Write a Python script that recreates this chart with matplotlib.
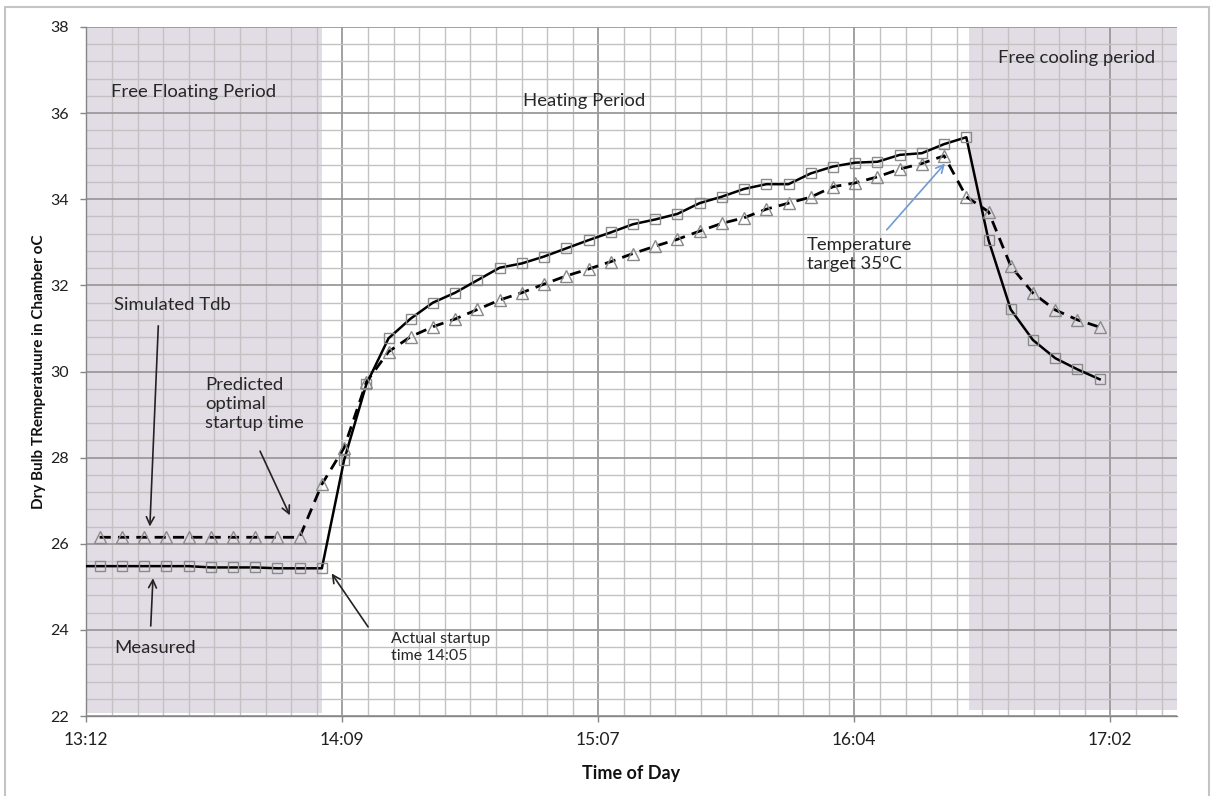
import matplotlib
matplotlib.use("Agg")
import numpy as np
import matplotlib.pyplot as plt
from matplotlib.patches import Rectangle
from matplotlib.ticker import FixedLocator, MultipleLocator

plt.rcParams['font.family'] = ['Lato', 'DejaVu Sans']

# ---------------- data ----------------
measured_times = ["13:10", "13:15", "13:20", "13:25", "13:30", "13:35", "13:40", "13:45",
                  "13:50", "13:55", "14:00", "14:05", "14:10", "14:15", "14:20", "14:25",
                  "14:30", "14:35", "14:40", "14:45", "14:50", "14:55", "15:00", "15:05",
                  "15:10", "15:15", "15:20", "15:25", "15:30", "15:35", "15:40", "15:45",
                  "15:50", "15:55", "16:00", "16:05", "16:10", "16:15", "16:20", "16:25",
                  "16:30", "16:35", "16:40", "16:45", "16:50", "16:55", "17:00"]
measured_tdb = [25.48, 25.48, 25.48, 25.48, 25.48, 25.48, 25.45, 25.45,
                25.45, 25.43, 25.43, 25.43, 27.94, 29.70, 30.77, 31.23,
                31.60, 31.83, 32.12, 32.41, 32.51, 32.67, 32.86, 33.05,
                33.23, 33.42, 33.53, 33.66, 33.91, 34.06, 34.24, 34.35,
                34.35, 34.60, 34.76, 34.85, 34.87, 35.03, 35.07, 35.28,
                35.44, 33.05, 31.44, 30.73, 30.31, 30.05, 29.82]

simulated_times = measured_times[1:]
simulated_tdb = [26.15, 26.15, 26.15, 26.15, 26.15, 26.15, 26.15, 26.15,
                 26.15, 26.15, 27.38, 28.23, 29.75, 30.46, 30.81,
                 31.04, 31.22, 31.44, 31.66, 31.83, 32.03, 32.22, 32.38,
                 32.55, 32.74, 32.91, 33.07, 33.26, 33.44, 33.57, 33.77,
                 33.91, 34.05, 34.29, 34.38, 34.52, 34.70, 34.83, 35.01,
                 34.06, 33.71, 32.45, 31.82, 31.43, 31.20, 31.03]

xtick_values = [0.55, 0.59, 0.63, 0.67, 0.71]          # fraction of a day
xtick_labels = ["13:12", "14:09", "15:07", "16:04", "17:02"]
ytick_values = [22, 24, 26, 28, 30, 32, 34, 36, 38]


def day(hhmm):
    h, m = hhmm.split(":")
    return (int(h) * 60 + float(m)) / 1440.0


def dm(h, m):
    return (h * 60 + m) / 1440.0


mx = [day(t) for t in measured_times]
sx = [day(t) for t in simulated_times]

W, H = 1211, 796
fig = plt.figure(figsize=(W / 100, H / 100), dpi=100)
L, R, T, B = 86.3, 1176.7, 27, 716
ax = fig.add_axes([L / W, 1 - B / H, (R - L) / W, (B - T) / H])

xmin, xmax = 0.55, 0.55 + (R - L) / 6400.0
ymin, ymax = 22, 38
ax.set_xlim(xmin, xmax)
ax.set_ylim(ymin, ymax)

shade = '#e2dde5'
ff_end = dm(14, 5.1)
cool_start = dm(16, 30.6)
ax.add_patch(Rectangle((xmin, 22.06), ff_end - xmin, ymax - 22.06,
                       facecolor=shade, edgecolor='none', zorder=0))
ax.add_patch(Rectangle((cool_start, 22.14), xmax - cool_start, ymax - 22.14,
                       facecolor=shade, edgecolor='none', zorder=0))

# grid
ax.xaxis.set_major_locator(FixedLocator(xtick_values))
ax.set_xticklabels(xtick_labels)
minor_x = 0.55 + 0.004 * np.arange(0, 43)
ax.xaxis.set_minor_locator(FixedLocator(minor_x))
ax.yaxis.set_major_locator(FixedLocator(ytick_values))
ax.yaxis.set_minor_locator(MultipleLocator(0.4))
ax.grid(which='major', color='#9a9a9a', lw=1.3, zorder=1)
ax.grid(which='minor', color='#c2c2c2', lw=1.0, zorder=1)
ax.set_axisbelow(True)

for s in ['top', 'right']:
    ax.spines[s].set_visible(False)
for s in ['left', 'bottom']:
    ax.spines[s].set_color('#868686')
    ax.spines[s].set_linewidth(1.0)

ax.tick_params(which='major', direction='out', length=4.5, width=1, color='#868686',
               labelcolor='#1f1f1f')
ax.tick_params(axis='y', which='major', pad=8, labelsize=11.5)
ax.tick_params(axis='x', which='major', pad=7, labelsize=12.5)
ax.tick_params(which='minor', length=0)

# series
ax.plot(mx, measured_tdb, color='black', lw=1.8, ls='-', marker='s', ms=7.5,
        mfc='none', mec='#8a8a8a', mew=1.0, zorder=3)
ax.plot(sx, simulated_tdb, color='black', lw=2.0, ls=(0, (4, 2.6)), marker='^', ms=8,
        mfc='none', mec='#8a8a8a', mew=1.0, zorder=3)

# labels
ax.set_xlabel("Time of Day", fontsize=13, fontweight='bold', labelpad=12, color='#111111')
ax.set_ylabel("Dry Bulb TRemperatuure in Chamber oC", fontsize=11, fontweight='bold',
              labelpad=3, color='#111111')

tc = '#262626'
fs = 13.3
ax.text(dm(13, 17.6), 36.49, "Free Floating Period", fontsize=fs, color=tc, va='center')
ax.text(dm(14, 50.3), 36.27, "Heating Period", fontsize=fs, color=tc, va='center')
ax.text(dm(16, 37.1), 37.28, "Free cooling period", fontsize=fs, color=tc, va='center')
ax.text(dm(13, 18.2), 31.54, "Simulated Tdb", fontsize=fs, color=tc, va='center')
ax.text(dm(13, 38.7), 29.25, "Predicted\noptimal\nstartup time", fontsize=fs, color=tc,
        va='center', linespacing=1.25)
ax.text(dm(13, 18.2), 23.57, "Measured", fontsize=fs, color=tc, va='center')
ax.text(dm(14, 20.5), 23.59, "Actual startup\ntime 14:05", fontsize=11.5, color=tc,
        va='center', linespacing=1.3)
ax.text(dm(15, 54.1), 32.72, "Temperature\ntarget 35ºC", fontsize=fs, color=tc,
        va='center', linespacing=1.25)

arrow_k = dict(arrowstyle='->', lw=1.2, color='#222222', shrinkA=0, shrinkB=0,
               mutation_scale=14)
ax.annotate("", xy=(dm(13, 26.3), 26.40), xytext=(dm(13, 28.2), 31.06), arrowprops=arrow_k)
ax.annotate("", xy=(dm(13, 27.0), 25.20), xytext=(dm(13, 26.5), 24.09), arrowprops=arrow_k)
ax.annotate("", xy=(dm(13, 57.8), 26.66), xytext=(dm(13, 51.1), 28.15), arrowprops=arrow_k)
ax.annotate("", xy=(dm(14, 7.2), 25.31), xytext=(dm(14, 15.4), 24.07), arrowprops=arrow_k)
ax.annotate("", xy=(dm(16, 25.2), 34.83), xytext=(dm(16, 12.1), 33.29),
            arrowprops=dict(arrowstyle='->', lw=1.2, color='#6f9bd6', shrinkA=0, shrinkB=0,
                            mutation_scale=14))

# outer chart border
fig.add_artist(Rectangle((5 / W, -0.05), (1209 - 5) / W, 1 - 7 / H + 0.05,
                         transform=fig.transFigure, facecolor='none',
                         edgecolor='#c4c4c4', lw=1.5, clip_on=False))

fig.savefig("out.png", dpi=100)
